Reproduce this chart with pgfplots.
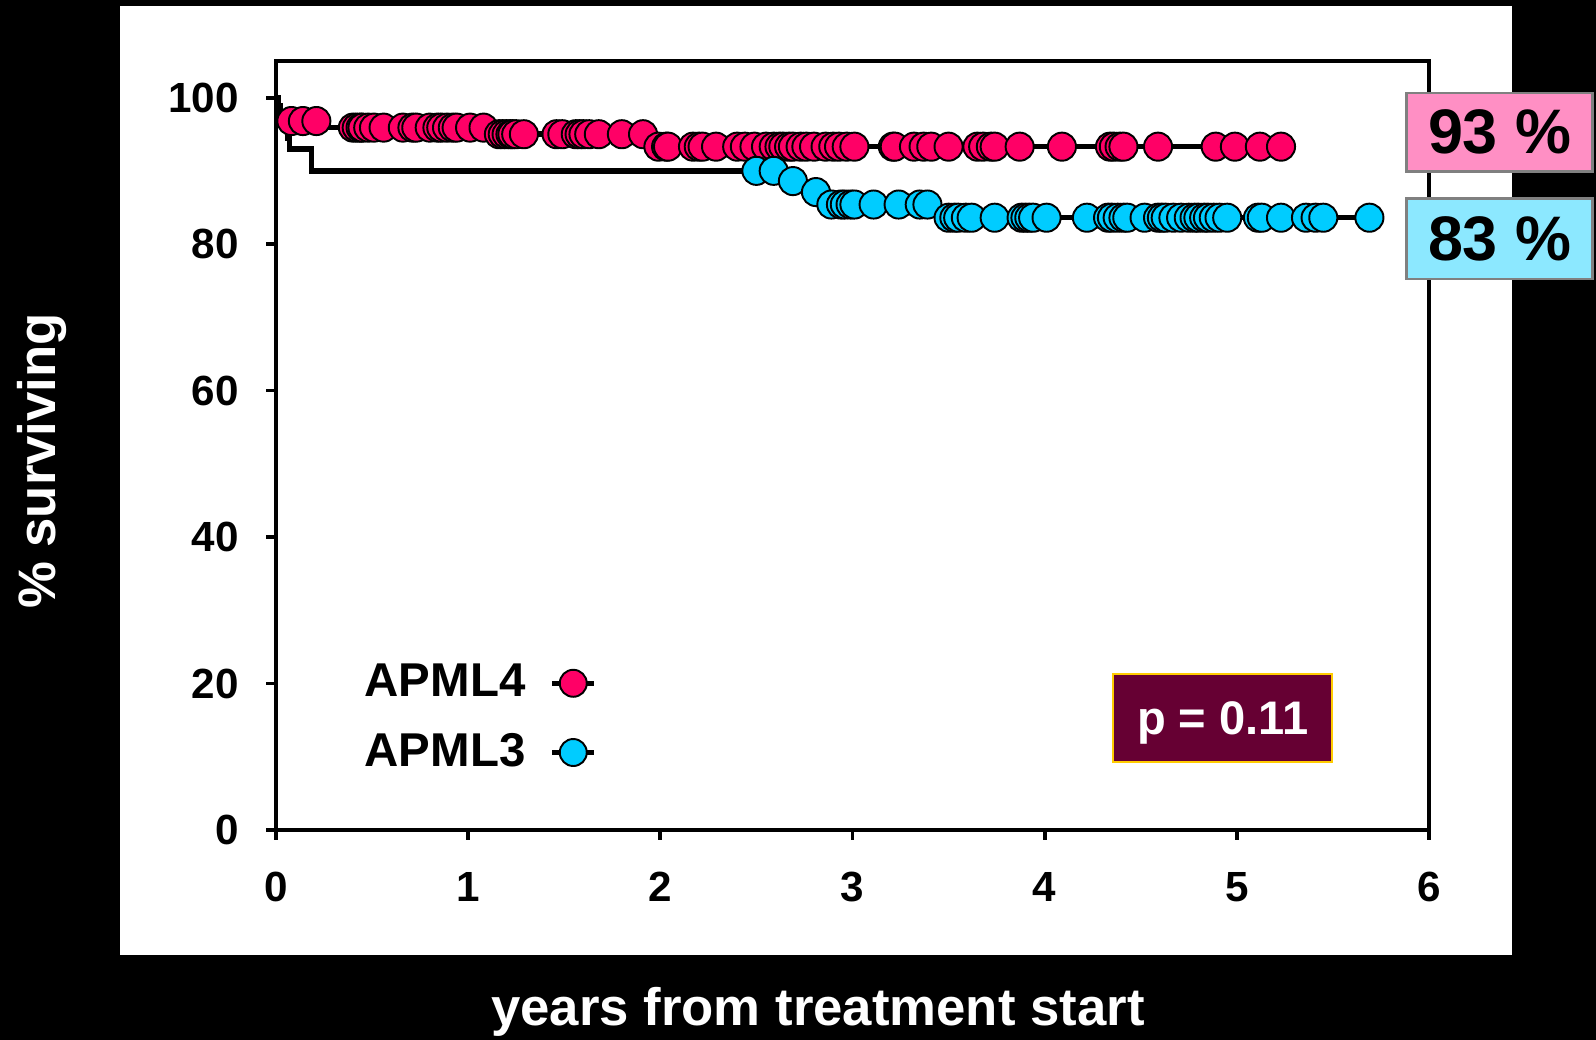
\documentclass[border=0pt]{standalone}
\usepackage{fontspec}
\setmainfont{Liberation Sans}
\usepackage{pgfplots}
\pgfplotsset{compat=1.18}
\definecolor{apmlpink}{HTML}{FF0066}
\definecolor{apmlcyan}{HTML}{00CCFF}
\definecolor{boxpink}{HTML}{FF8FC4}
\definecolor{boxcyan}{HTML}{8CE8FF}
\definecolor{pmaroon}{HTML}{660033}
\definecolor{pgold}{HTML}{FFCC00}
\begin{document}
\begin{tikzpicture}[x=1cm,y=1cm]
\useasboundingbox (0,0) rectangle (15.96,10.40);
\fill[black] (0,0) rectangle (15.96,10.40);
\fill[white] (1.20,0.85) rectangle (15.12,10.34);
\begin{axis}[
  at={(2.76cm,2.10cm)}, anchor=south west,
  scale only axis, width=11.53cm, height=7.69cm,
  xmin=0, xmax=6, ymin=0, ymax=105,
  xtick={0,...,6}, ytick={0,20,...,100},
  xtick pos=left, ytick pos=left,
  tick align=outside, major tick length=0.1cm,
  axis line style={line width=1.1pt},
  every tick/.style={line width=1.1pt, black},
  tick label style={font=\fontsize{12}{14}\selectfont\bfseries},
  /pgf/number format/assume math mode=true,
  xticklabel style={yshift=-0.2cm},
  yticklabel style={xshift=-0.15cm},
  clip=false,
  legend plot pos=right,
  legend cell align=right,
  legend style={at={(0.279,0.1456)}, anchor=east, draw=none, fill=none,
    font=\fontsize{13.5}{15}\selectfont\bfseries,
    row sep=0.17cm, column sep=0.17cm, inner sep=0pt},
]
% APML4 Kaplan-Meier step line
\addplot[black, line width=1.55pt, const plot, forget plot] coordinates {
(0,100) (0.01,98.9) (0.02,97.8) (0.03,96.8) (0.22,95.9) (1.10,95.0) (1.95,93.3) (5.23,93.3)};
% APML3 Kaplan-Meier step line
\addplot[black, line width=1.55pt, const plot, forget plot] coordinates {
(0,100) (0.01,98.9) (0.02,97.8) (0.03,96.7) (0.045,95.6) (0.06,94.4) (0.07,93.0) (0.185,90.0)
(2.64,88.6) (2.75,87.1) (2.85,85.4) (3.45,83.6) (5.69,83.6)};
% APML4 censor marks
\addplot[only marks, mark=*, mark size=4.0pt,
  mark options={fill=apmlpink, draw=black, line width=0.55pt},
  legend image code/.code={\draw[black,line width=1.55pt] (0cm,0cm) -- (0.42cm,0cm);
    \draw[fill=apmlpink,draw=black,line width=0.55pt] (0.21cm,0cm) circle (0.135cm);}]
coordinates {
(0.08,96.8) (0.14,96.8) (0.21,96.8)
(0.40,95.9) (0.42,95.9) (0.44,95.9) (0.45,95.9) (0.48,95.9) (0.51,95.9) (0.56,95.9) (0.66,95.9)
(0.71,95.9) (0.73,95.9) (0.80,95.9) (0.84,95.9) (0.86,95.9) (0.89,95.9) (0.92,95.9) (0.94,95.9)
(1.01,95.9) (1.08,95.9)
(1.16,95.0) (1.18,95.0) (1.20,95.0) (1.22,95.0) (1.23,95.0) (1.25,95.0) (1.29,95.0) (1.46,95.0)
(1.49,95.0) (1.56,95.0) (1.58,95.0) (1.60,95.0) (1.63,95.0) (1.68,95.0) (1.80,95.0) (1.91,95.0)
(1.99,93.3) (2.03,93.3) (2.04,93.3) (2.17,93.3) (2.20,93.3) (2.22,93.3) (2.29,93.3) (2.40,93.3)
(2.44,93.3) (2.49,93.3) (2.55,93.3) (2.59,93.3) (2.62,93.3) (2.64,93.3) (2.67,93.3) (2.69,93.3)
(2.73,93.3) (2.76,93.3) (2.80,93.3) (2.86,93.3) (2.90,93.3) (2.93,93.3) (2.97,93.3) (3.01,93.3)
(3.21,93.3) (3.22,93.3) (3.32,93.3) (3.37,93.3) (3.41,93.3) (3.50,93.3) (3.65,93.3) (3.68,93.3)
(3.72,93.3) (3.74,93.3) (3.87,93.3) (4.09,93.3) (4.34,93.3) (4.36,93.3) (4.39,93.3) (4.41,93.3)
(4.59,93.3) (4.89,93.3) (4.99,93.3) (5.12,93.3) (5.23,93.3)};
\addlegendentry{APML4}
% APML3 censor marks
\addplot[only marks, mark=*, mark size=4.0pt,
  mark options={fill=apmlcyan, draw=black, line width=0.55pt},
  legend image code/.code={\draw[black,line width=1.55pt] (0cm,0cm) -- (0.42cm,0cm);
    \draw[fill=apmlcyan,draw=black,line width=0.55pt] (0.21cm,0cm) circle (0.135cm);}]
coordinates {
(2.50,90.0) (2.59,90.0) (2.69,88.6) (2.81,87.1)
(2.89,85.4) (2.94,85.4) (2.96,85.4) (2.99,85.4) (3.01,85.4) (3.11,85.4) (3.24,85.4) (3.35,85.4) (3.39,85.4)
(3.50,83.6) (3.53,83.6) (3.55,83.6) (3.59,83.6) (3.62,83.6) (3.74,83.6) (3.88,83.6) (3.90,83.6)
(3.92,83.6) (3.94,83.6) (4.01,83.6) (4.22,83.6) (4.33,83.6) (4.35,83.6) (4.38,83.6) (4.41,83.6)
(4.43,83.6) (4.52,83.6) (4.59,83.6) (4.61,83.6) (4.63,83.6) (4.67,83.6) (4.71,83.6) (4.75,83.6)
(4.78,83.6) (4.80,83.6) (4.83,83.6) (4.85,83.6) (4.88,83.6) (4.91,83.6) (4.95,83.6) (5.11,83.6)
(5.13,83.6) (5.23,83.6) (5.36,83.6) (5.41,83.6) (5.45,83.6) (5.69,83.6)};
\addlegendentry{APML3}
\end{axis}
% p-value box
\node[fill=pmaroon, draw=pgold, line width=0.6pt, minimum width=2.19cm, minimum height=0.877cm,
  inner sep=0pt, text=white, text height=0.34cm, text depth=0pt,
  font=\fontsize{13.4}{15}\selectfont\bfseries] at (12.228,3.221) {p = 0.11};
% percentage boxes
\node[fill=boxpink, draw=gray, line width=0.7pt, minimum width=1.86cm, minimum height=0.787cm,
  inner sep=0pt, font=\fontsize{17.9}{20}\selectfont\bfseries] at (14.997,9.077) {93 \%};
\node[fill=boxcyan, draw=gray, line width=0.7pt, minimum width=1.86cm, minimum height=0.807cm,
  inner sep=0pt, font=\fontsize{17.9}{20}\selectfont\bfseries] at (14.997,8.013) {83 \%};
% axis titles
\node[rotate=90, text=white, font=\fontsize{15}{18}\selectfont\bfseries] at (0.42,5.79) {\% surviving};
\node[text=white, font=\fontsize{15}{18}\selectfont\bfseries] at (8.18,0.28) {years from treatment start};
\end{tikzpicture}
\end{document}
